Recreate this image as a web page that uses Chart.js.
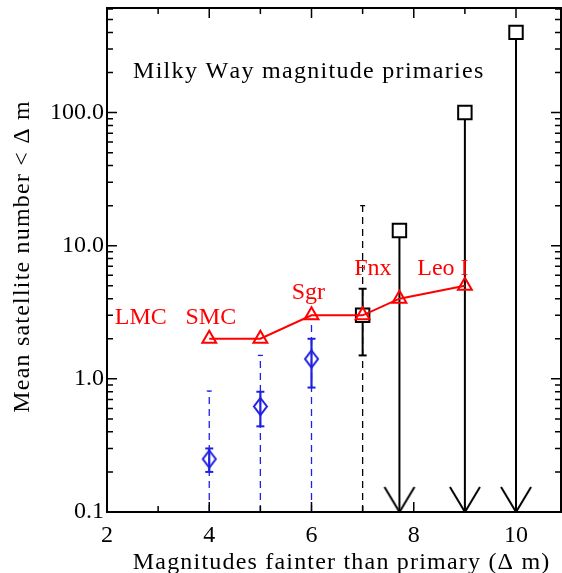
<!DOCTYPE html>
<html>
<head>
<meta charset="utf-8">
<script src="https://cdn.jsdelivr.net/npm/chart.js@4"></script>
<style>
  html, body { margin: 0; padding: 0; background: #fff; }
</style>
</head>
<body>
<canvas id="c" width="562" height="573"></canvas>
<script>
// axis ranges and ticks
const X_MIN = 2, X_MAX = 10.88
const Y_MIN = 0.1, Y_MAX = 610
const X_TICKS = [2, 4, 6, 8, 10]
const X_MINOR = [3, 5, 7, 9]
const Y_TICKS = [0.1, 1, 10, 100]

// red: Milky Way satellites (connected triangles)
const redX = [4, 5, 6, 7, 7.72, 9]
const redY = [2, 2, 3, 3, 4, 5]
const labelNames = ['LMC', 'SMC', 'Sgr', 'Fnx', 'Leo I']
const labelX = [2.66, 4.03, 5.94, 7.2, 8.57]
const labelY = [2.88, 2.88, 4.47, 6.7, 6.7]

// blue diamonds with error bars
const blueX = [4, 5, 6]
const blueY = [0.25, 0.62, 1.41]
const blueLo = [0.2, 0.44, 0.86]
const blueHi = [0.3, 0.8, 2.0]
const blueDashHi = [0.81, 1.5, 2.8]

// black squares, error bar and upper-limit arrows
const sqX = [7, 7.72, 9, 10]
const sqY = [3, 13, 100, 400]
const blackErrX = [7]
const blackLo = [1.5]
const blackHi = [4.75]
const blackDashHi = [20]
const arrowX = [7.72, 9, 10]
const arrowTop = [13, 100, 400]

const RED = '#ff0000'
const BLUE = '#2020e0'
const FONT = "'Liberation Serif', 'Times New Roman', serif"

// vertical segments separated by gaps
function bars(xs, lo, hi) {
  const pts = []
  xs.forEach((x, i) => { pts.push({ x, y: lo[i] }, { x, y: hi[i] }, { x, y: null }) })
  return pts
}
function caps(n, lo, hi) {
  const r = []
  for (let i = 0; i < n; i++) r.push(lo, hi, 0)
  return r
}
const floor = xs => xs.map(() => Y_MIN)

function marker(w, h, draw) {
  const c = document.createElement('canvas')
  c.width = w; c.height = h
  draw(c.getContext('2d'))
  return c
}
const diamondImg = marker(17, 21, g => {
  g.strokeStyle = BLUE; g.lineWidth = 2
  g.beginPath(); g.moveTo(8.5, 2); g.lineTo(15, 10.5); g.lineTo(8.5, 19); g.lineTo(2, 10.5); g.closePath(); g.stroke()
})
const arrowImg = marker(34, 54, g => {
  g.strokeStyle = '#000'; g.lineWidth = 2
  g.beginPath(); g.moveTo(2, 2); g.lineTo(17, 27); g.lineTo(32, 2); g.stroke()
})

// text with a bit of extra tracking (the original font is wider)
function spaced(ctx, text, x, y, gap, align) {
  const chars = [...text]
  const w = chars.reduce((s, c) => s + ctx.measureText(c).width, 0) + gap * (chars.length - 1)
  let cx = align === 'center' ? x - w / 2 : x
  ctx.textAlign = 'left'
  chars.forEach(c => { ctx.fillText(c, cx, y); cx += ctx.measureText(c).width + gap })
}

// frame, inward ticks and text
const decor = {
  id: 'decor',
  afterDraw(chart) {
    const { ctx, chartArea: a, scales: { x, y } } = chart
    ctx.save()
    ctx.strokeStyle = '#000'
    ctx.lineWidth = 1.5
    ctx.beginPath()
    const xt = (v, len) => {
      const p = x.getPixelForValue(v)
      ctx.moveTo(p, a.bottom); ctx.lineTo(p, a.bottom - len)
      ctx.moveTo(p, a.top); ctx.lineTo(p, a.top + len)
    }
    const yt = (v, len) => {
      const p = y.getPixelForValue(v)
      ctx.moveTo(a.left, p); ctx.lineTo(a.left + len, p)
      ctx.moveTo(a.right, p); ctx.lineTo(a.right - len, p)
    }
    X_TICKS.forEach(v => xt(v, 10))
    X_MINOR.forEach(v => xt(v, 6))
    Y_TICKS.forEach(d => {
      yt(d, 10)
      for (let k = 2; k <= 9; k++) if (d * k < Y_MAX) yt(d * k, 6)
    })
    ctx.stroke()
    ctx.lineWidth = 2
    ctx.strokeRect(a.left, a.top, a.right - a.left, a.bottom - a.top)

    ctx.font = '24px ' + FONT
    ctx.fillStyle = RED
    ctx.textAlign = 'center'
    ctx.textBaseline = 'middle'
    labelNames.forEach((t, i) => {
      ctx.fillText(t, x.getPixelForValue(labelX[i]), y.getPixelForValue(labelY[i]))
    })

    ctx.fillStyle = '#000'
    ctx.textBaseline = 'alphabetic'
    spaced(ctx, 'Milky Way magnitude primaries', 133, 78, 1.3, 'left')
    spaced(ctx, 'Magnitudes fainter than primary (\u0394 m)', 341, 569, 1.2, 'center')
    ctx.translate(29, 257)
    ctx.rotate(-Math.PI / 2)
    spaced(ctx, 'Mean satellite number < \u0394 m', 0, 0, 1.2, 'center')
    ctx.restore()
  }
}

// no extra room for edge labels: the frame fills the canvas
const noPad = s => { s.paddingTop = 0; s.paddingBottom = 0; s.paddingLeft = 0; s.paddingRight = 0 }

new Chart(document.getElementById('c'), {
  type: 'scatter',
  data: {
    datasets: [
      {
        data: bars(blueX, floor(blueX), blueDashHi),
        showLine: true, borderColor: BLUE, borderWidth: 1.3, borderDash: [7, 5],
        pointStyle: 'line', pointRadius: caps(blueX.length, 0, 2.5), pointBorderColor: BLUE, pointBorderWidth: 1.3,
        order: 10
      },
      {
        data: bars(blackErrX, floor(blackErrX), blackDashHi),
        showLine: true, borderColor: '#000', borderWidth: 1.3, borderDash: [7, 5],
        pointStyle: 'line', pointRadius: caps(blackErrX.length, 0, 2.5), pointBorderColor: '#000', pointBorderWidth: 1.3,
        order: 10
      },
      {
        data: bars(blueX, blueLo, blueHi),
        showLine: true, borderColor: BLUE, borderWidth: 2.2,
        pointStyle: 'line', pointRadius: caps(blueX.length, 4, 4), pointBorderColor: BLUE, pointBorderWidth: 2,
        order: 8
      },
      {
        data: bars(blackErrX, blackLo, blackHi),
        showLine: true, borderColor: '#000', borderWidth: 2,
        pointStyle: 'line', pointRadius: caps(blackErrX.length, 4, 4), pointBorderColor: '#000', pointBorderWidth: 2,
        order: 8
      },
      {
        data: bars(arrowX, arrowTop, floor(arrowX)),
        showLine: true, borderColor: '#000', borderWidth: 2, pointRadius: 0,
        order: 7
      },
      {
        data: arrowX.map(x => ({ x, y: Y_MIN })),
        pointStyle: arrowImg, pointRadius: 10,
        order: 6
      },
      {
        data: sqX.map((x, i) => ({ x, y: sqY[i] })),
        pointStyle: 'rect', pointRadius: 9.5, pointBorderWidth: 2,
        pointBorderColor: '#000', pointBackgroundColor: '#fff',
        order: 5
      },
      {
        data: blueX.map((x, i) => ({ x, y: blueY[i] })),
        pointStyle: diamondImg, pointRadius: 9,
        order: 4
      },
      {
        data: redX.map((x, i) => ({ x, y: redY[i] })),
        showLine: true, borderColor: RED, borderWidth: 2,
        pointStyle: 'triangle', pointRadius: 8, pointBorderWidth: 2,
        pointBorderColor: RED, pointBackgroundColor: 'rgba(255,255,255,0)',
        order: 2
      }
    ]
  },
  options: {
    responsive: false,
    animation: false,
    events: [],
    layout: { autoPadding: false, padding: { top: 8, right: 1, left: 0, bottom: 0 } },
    plugins: { legend: { display: false }, tooltip: { enabled: false } },
    scales: {
      x: {
        type: 'linear', min: X_MIN, max: X_MAX, bounds: 'data',
        grid: { display: false, drawTicks: false }, border: { display: false },
        afterBuildTicks: s => { s.ticks = X_TICKS.map(value => ({ value })) },
        afterFit: s => { s.height = 61; noPad(s) },
        ticks: { autoSkip: false, maxRotation: 0, padding: 9, color: '#000', font: { family: FONT, size: 24 } }
      },
      y: {
        type: 'logarithmic', min: Y_MIN, max: Y_MAX, bounds: 'data',
        grid: { display: false, drawTicks: false }, border: { display: false },
        afterBuildTicks: s => { s.ticks = Y_TICKS.map(value => ({ value })) },
        afterFit: s => { s.width = 107; noPad(s) },
        ticks: {
          autoSkip: false, padding: 3, color: '#000', font: { family: FONT, size: 24 },
          callback: v => Number(v).toFixed(1)
        }
      }
    }
  },
  plugins: [decor]
})
</script>
</body>
</html>
